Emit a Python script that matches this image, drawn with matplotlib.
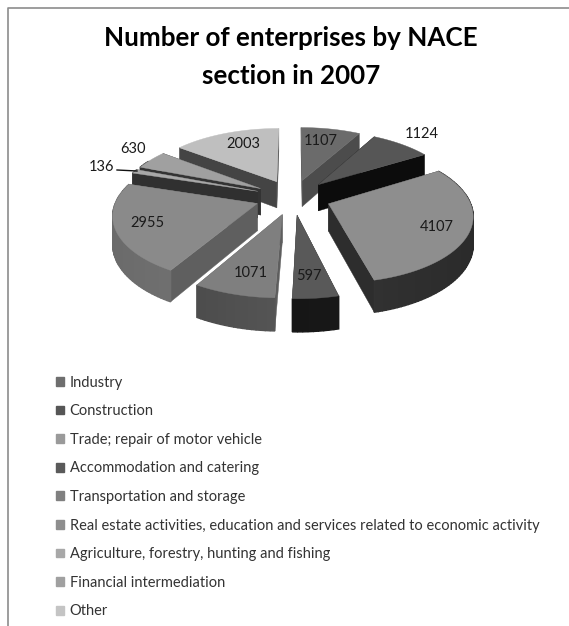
import numpy as np
import matplotlib
matplotlib.use('Agg')
import matplotlib.pyplot as plt
from matplotlib.patches import Polygon, Patch

plt.rcParams['font.family'] = ['Lato', 'DejaVu Sans']

names = ['Industry', 'Construction', 'Trade; repair of motor vehicle',
         'Accommodation and catering', 'Transportation and storage',
         'Real estate activities, education and services related to economic activity',
         'Agriculture, forestry, hunting and fishing', 'Financial intermediation', 'Other']
values = [1107, 1124, 4107, 597, 1071, 2955, 136, 630, 2003]
top_cols = ['#6b6b6b', '#565656', '#8e8e8e', '#595959', '#7f7f7f', '#8a8a8a', '#a8a8a8', '#a0a0a0', '#bfbfbf']
legend_cols = ['#6e6e6e', '#565656', '#9a9a9a', '#5a5a5a', '#808080', '#8e8e8e', '#a8a8a8', '#a0a0a0', '#c4c4c4']
cut_cols = ['#4c4c4c', '#0c0c0c', '#2d2d2d', '#1c1c1c', '#5e5e5e', '#5f5f5f', '#303030', '#333333', '#444444']
out_left = ['#5a5a5a', '#0c0c0c', '#2a2a2a', '#1e1e1e', '#666666', '#808080', '#303030', '#333333', '#444444']
out_right = ['#5a5a5a', '#0c0c0c', '#3c3c3c', '#0e0e0e', '#444444', '#6a6a6a', '#303030', '#333333', '#444444']
label_pos = [(321, 141), (422, 134), (437, 227), (309, 276), (251, 273), (147, 223), (102, 167), (133, 149), (243, 144)]

cx, cy = 293, 197
R, ky, pers = 140, 0.466, 0.147
boom = 0.27
depth = 27


def project(u, v, z=0):
    # u, v on the pie plane in units of the radius, v points away from the viewer
    w = 1 + pers * v
    return cx + R * u / w, cy - R * ky * v / w + depth * z / w


fig = plt.figure(figsize=(5.69, 6.26), dpi=100)
ax = fig.add_axes([0, 0, 1, 1])
ax.set_xlim(0, 569)
ax.set_ylim(626, 0)
ax.axis('off')

# chart frame: only the top and left sides show in the crop
ax.plot([8.5, 8.5, 569], [626, 7.5, 7.5], color='#8c8c8c', lw=1.2)

edges = np.cumsum([0] + values) / sum(values) * 2 * np.pi
slices = []
for i in range(len(values)):
    a0, a1 = edges[i], edges[i + 1]
    mid = (a0 + a1) / 2
    du, dv = boom * np.sin(mid), boom * np.cos(mid)
    slices.append((dv, i, a0, a1, du))

# far slices first so that the near ones cover them
for dv, i, a0, a1, du in sorted(slices, key=lambda s: -s[0]):
    t = np.linspace(a0, a1, max(int((a1 - a0) * 40), 3))
    us = du + np.sin(t)
    vs = dv + np.cos(t)
    px, py = project(du, dv)
    bx, by = project(du, dv, 1)
    ex, ey = project(us, vs)
    fx, fy = project(us, vs, 1)
    # cut faces
    for k in (0, -1):
        ax.add_patch(Polygon([(px, py), (ex[k], ey[k]), (fx[k], fy[k]), (bx, by)],
                             fc=cut_cols[i], ec=cut_cols[i], lw=0.3))
    # rim, shaded from side to side
    c0 = np.array(matplotlib.colors.to_rgb(out_left[i]))
    c1 = np.array(matplotlib.colors.to_rgb(out_right[i]))
    for k in range(len(t) - 1):
        col = c0 + (c1 - c0) * (1 - (np.sin((t[k] + t[k + 1]) / 2) + 1) / 2)
        if np.cos((t[k] + t[k + 1]) / 2) + dv < 0.6:
            ax.add_patch(Polygon([(ex[k], ey[k]), (ex[k + 1], ey[k + 1]), (fx[k + 1], fy[k + 1]), (fx[k], fy[k])],
                                 fc=col, ec=col, lw=1.0))
    ax.add_patch(Polygon(np.column_stack([np.r_[px, ex], np.r_[py, ey]]), fc=top_cols[i], ec=top_cols[i], lw=0.3))

ax.plot([117, 137], [170, 171], color='#111111', lw=1)
for val, (x, y) in zip(values, label_pos):
    ax.text(x, y, str(val), ha='center', va='center', fontsize=10.5, color='#1a1a1a')

ax.text(291, 57, 'Number of enterprises by NACE\nsection in 2007', ha='center', va='center',
        fontsize=18.7, fontweight='bold', color='black', linespacing=1.65)

handles = [Patch(fc=c, ec=c) for c in legend_cols]
ax.legend(handles, names, loc='upper left', bbox_to_anchor=(0.098, 0.4), frameon=False, fontsize=10.5,
          labelspacing=1.0, handlelength=0.55, handleheight=0.55, handletextpad=0.4,
          labelcolor='#333333', borderpad=0, borderaxespad=0)

fig.savefig('out.png', dpi=100)
